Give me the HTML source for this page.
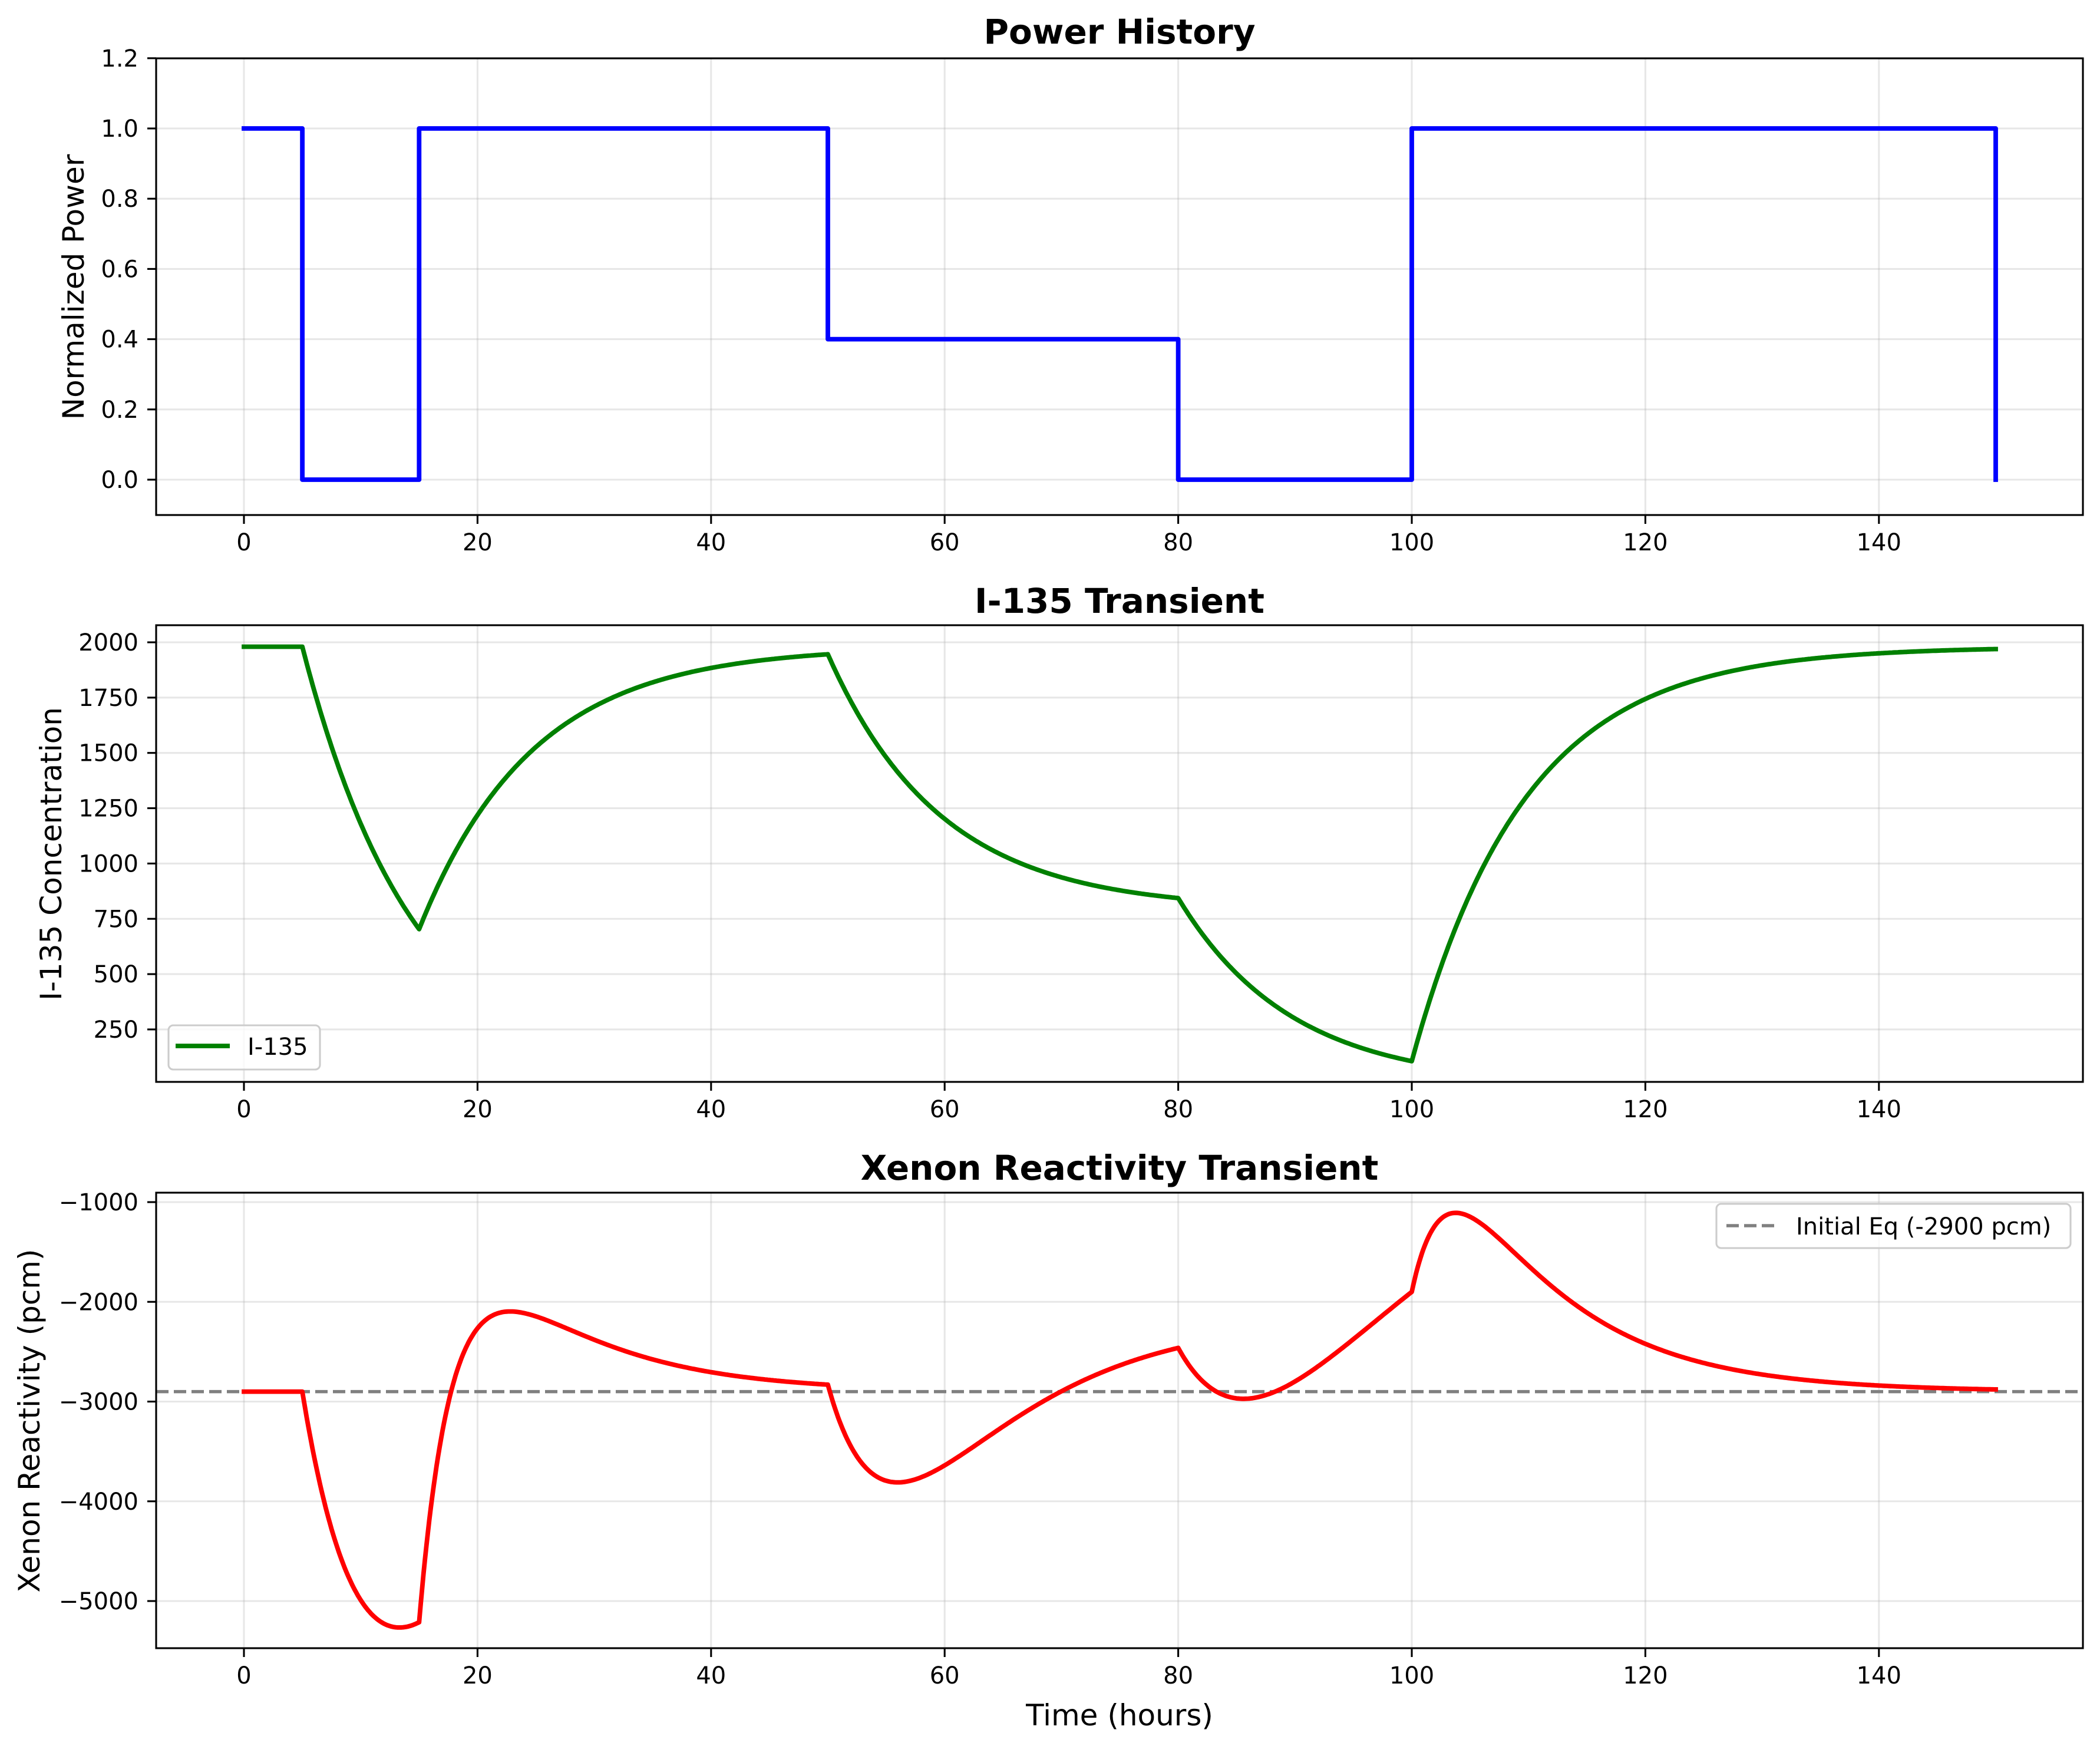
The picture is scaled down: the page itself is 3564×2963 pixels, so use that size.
<!DOCTYPE html>
<html><head><meta charset="utf-8"><style>
html,body{margin:0;padding:0;background:#fff;}
svg{display:block;font-family:"DejaVu Sans","Liberation Sans",sans-serif;}
</style></head><body>
<svg id="s" width="3564" height="2963" viewBox="0 0 3564 2963" xmlns="http://www.w3.org/2000/svg">
<rect width="3564" height="2963" fill="#fff"/>
<text x="1900" y="74" font-size="58" font-weight="bold" text-anchor="middle">Power History</text>
<text x="1900" y="1040" font-size="58" font-weight="bold" text-anchor="middle">I-135 Transient</text>
<text x="1900" y="2002" font-size="58" font-weight="bold" text-anchor="middle">Xenon Reactivity Transient</text>
<text transform="translate(142,487) rotate(-90)" font-size="50" text-anchor="middle">Normalized Power</text>
<text transform="translate(104,1449) rotate(-90)" font-size="50" text-anchor="middle">I-135 Concentration</text>
<text transform="translate(67,2411) rotate(-90)" font-size="50" text-anchor="middle">Xenon Reactivity (pcm)</text>
<text x="1900" y="2928" font-size="50" text-anchor="middle">Time (hours)</text>
</svg>
<script>
(function(){
var s=document.getElementById('s'),NS='http://www.w3.org/2000/svg';
function el(n,a,t){var e=document.createElementNS(NS,n);for(var k in a)e.setAttribute(k,a[k]);if(t!==undefined)e.textContent=t;s.appendChild(e);return e;}
var L=265,R=3535;
function X(t){return 414+t*19.82;}
var axes=[
 {top:99,bot:874,y:function(v){return 218-(v-1.0)*596;},ticks:[0,0.2,0.4,0.6,0.8,1.0,1.2],fmt:function(v){return v.toFixed(1);}},
 {top:1061,bot:1836,y:function(v){return 1090-(v-2000)*0.3754;},ticks:[250,500,750,1000,1250,1500,1750,2000],fmt:function(v){return ''+v;}},
 {top:2024,bot:2797,y:function(v){return 2040-(v+1000)*0.16925;},ticks:[-5000,-4000,-3000,-2000,-1000],fmt:function(v){return '\u2212'+Math.abs(v);}}
];
var lI=0.1035,lX=0.0753,b=0.26,Ieq=1980,Xeq=2900;
var tot=(lX+b)*Xeq,A=tot/1.0375,G=tot-A;
function P(t){if(t<5)return 1;if(t<15)return 0;if(t<50)return 1;if(t<80)return 0.4;if(t<100)return 0;return 1;}
var dt=0.005,I=Ieq,Xe=Xeq,pI=[],pX=[];
for(var k=0;k<=30000;k++){var t=k*dt;
 if(k%25==0){pI.push([t,I]);pX.push([t,-Xe]);}
 var p=P(t);var In=I/Ieq;
 var dI=lI*(Ieq*p-I);var dX=A*In+G*p-(lX+b*p)*Xe;
 I+=dI*dt;Xe+=dX*dt;}
axes.forEach(function(a,i){
 for(var t=0;t<=140;t+=20){el('line',{x1:X(t),x2:X(t),y1:a.top,y2:a.bot,stroke:'#b0b0b0','stroke-opacity':0.3,'stroke-width':3.1});}
 a.ticks.forEach(function(v){var y=a.y(v);
  el('line',{x1:L,x2:R,y1:y,y2:y,stroke:'#b0b0b0','stroke-opacity':0.3,'stroke-width':3.1});
  el('line',{x1:L-15,x2:L,y1:y,y2:y,stroke:'#000','stroke-width':3.1});
  el('text',{x:235,y:y+14,'font-size':40,'text-anchor':'end'},a.fmt(v));});
 for(var t=0;t<=140;t+=20){el('line',{x1:X(t),x2:X(t),y1:a.bot,y2:a.bot+15,stroke:'#000','stroke-width':3.1});
  el('text',{x:X(t),y:a.bot+60,'font-size':40,'text-anchor':'middle'},''+t);}
});
function path(pts,a,col,extra){var d='';pts.forEach(function(p,j){d+=(j?'L':'M')+X(p[0]).toFixed(1)+' '+a.y(p[1]).toFixed(1);});
 var o={d:d,fill:'none',stroke:col,'stroke-width':7.8,'stroke-linejoin':'round','stroke-linecap':'square'};for(var k in extra)o[k]=extra[k];el('path',o);}
var pp=[[0,1],[5,1],[5,0],[15,0],[15,1],[50,1],[50,0.4],[80,0.4],[80,0],[100,0],[100,1],[150,1],[150,0]];
path(pp,axes[0],'#0000ff');
path(pI,axes[1],'#008000');
var a3=axes[2];
el('line',{x1:L,x2:R,y1:a3.y(-2900),y2:a3.y(-2900),stroke:'#808080','stroke-width':5.5,'stroke-dasharray':'21 9'});
path(pX,a3,'#ff0000');
axes.forEach(function(a){el('rect',{x:L,y:a.top,width:R-L,height:a.bot-a.top,fill:'none',stroke:'#000','stroke-width':3.1});});
el('rect',{x:286,y:1740,width:257,height:75,rx:8,fill:'#fff','fill-opacity':0.8,stroke:'#cccccc','stroke-width':3.1});
el('line',{x1:298,x2:390,y1:1775,y2:1775,stroke:'#008000','stroke-width':7.8});
el('text',{x:420,y:1790,'font-size':40},'I-135');
el('rect',{x:2913,y:2043,width:601,height:75,rx:8,fill:'#fff','fill-opacity':0.8,stroke:'#cccccc','stroke-width':3.1});
el('line',{x1:2930,x2:3013,y1:2080,y2:2080,stroke:'#808080','stroke-width':5.5,'stroke-dasharray':'21 9'});
el('text',{x:3048,y:2095,'font-size':40},'Initial Eq (-2900 pcm)');
})();
</script>
</body></html>
